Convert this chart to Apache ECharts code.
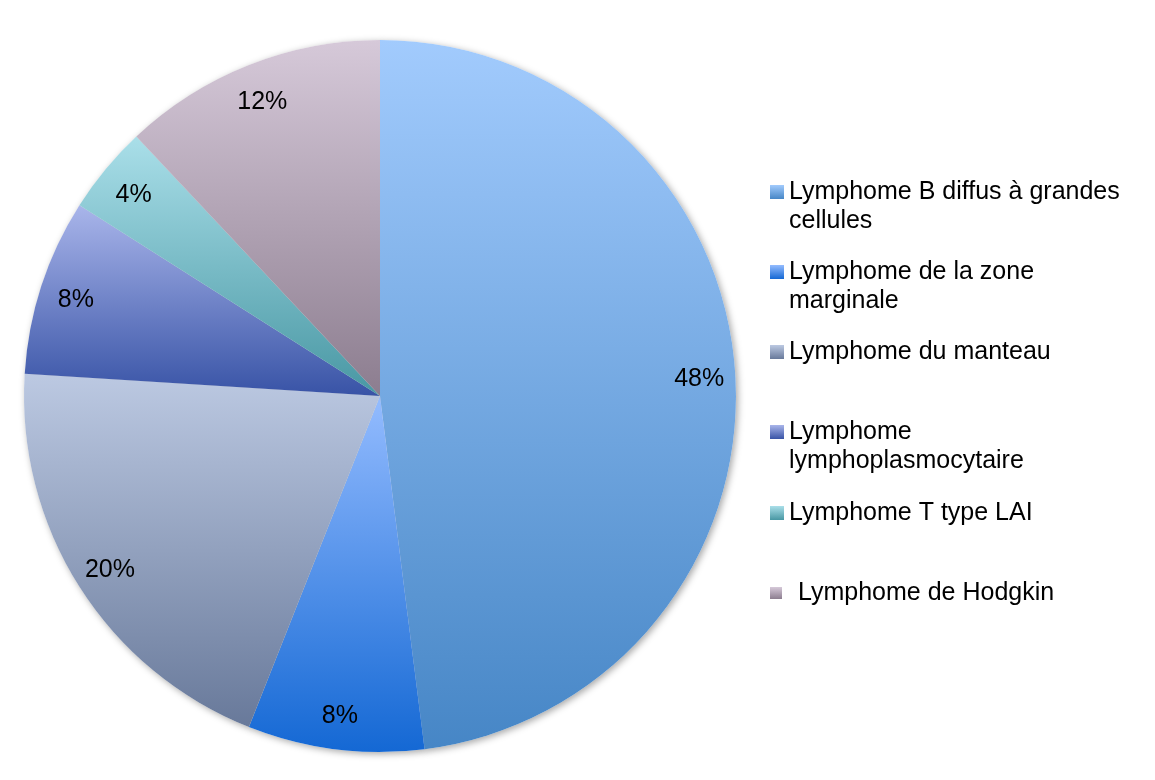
<!DOCTYPE html>
<html>
<head>
<meta charset="utf-8">
<script src="https://cdn.jsdelivr.net/npm/echarts@6/dist/echarts.min.js"></script>
<style>
  html, body { margin: 0; padding: 0; background: #ffffff; }
  #chart { width: 1155px; height: 780px; }
</style>
</head>
<body>
<div id="chart"></div>
<script>
// Lymphoma subtypes and their share of cases (%)
const categories = [
  'Lymphome B diffus à grandes cellules',
  'Lymphome de la zone marginale',
  'Lymphome du manteau',
  'Lymphome lymphoplasmocytaire',
  'Lymphome T type LAI',
  'Lymphome de Hodgkin'
];
const shares = [48, 8, 20, 8, 4, 12];

// Legend text, broken over lines as it is shown beside the pie
const legendLines = [
  ['Lymphome B diffus à grandes', 'cellules'],
  ['Lymphome de la zone', 'marginale'],
  ['Lymphome du manteau'],
  ['Lymphome', 'lymphoplasmocytaire'],
  ['Lymphome T type LAI'],
  ['Lymphome de Hodgkin']
];

// Slice colours: vertical gradient, light at the top, darker at the bottom
const sliceTop = ['#A2CBFD', '#94BCFF', '#BCC9E2', '#A9B5EA', '#AADFE9', '#D6C9D9'];
const sliceBottom = ['#4686C6', '#1468D4', '#68799A', '#3853A6', '#4897A3', '#8C7D8F'];

// Layout
const pieCenter = [380, 396];
const pieRadius = 356;
const legendLeft = 770;
const legendIconY = [192, 272, 352, 432, 513, 593];
const lineHeight = 29;
const fontSize = 25;
const fontFamily = '"Liberation Sans", Arial, Helvetica, sans-serif';

function gradient(i) {
  return new echarts.graphic.LinearGradient(0, 0, 0, 1, [
    { offset: 0, color: sliceTop[i] },
    { offset: 1, color: sliceBottom[i] }
  ]);
}

const pieData = categories.map((name, i) => ({
  name: name,
  value: shares[i],
  itemStyle: { color: gradient(i) }
}));

// One legend block per entry so each sits on its own row
const legends = categories.map((name, i) => {
  const lines = legendLines[i];
  const twoLines = lines.length > 1;
  const blockHeight = twoLines ? lineHeight * 3 : lineHeight;
  const isLast = i === categories.length - 1;
  return {
    data: [name],
    orient: 'vertical',
    left: legendLeft,
    top: legendIconY[i] - blockHeight / 2,
    padding: 0,
    itemWidth: isLast ? 12 : 14,
    itemHeight: isLast ? 12 : 14,
    icon: 'rect',
    selectedMode: false,
    itemStyle: { borderWidth: 0 },
    formatter: function () {
      if (twoLines) {
        // a leading empty line keeps the icon level with the first line
        return '\n' + lines.join('\n');
      }
      return isLast ? '{pad|' + lines[0] + '}' : lines[0];
    },
    textStyle: {
      fontFamily: fontFamily,
      fontSize: fontSize,
      lineHeight: lineHeight,
      color: '#000000',
      rich: {
        pad: {
          fontFamily: fontFamily,
          fontSize: fontSize,
          lineHeight: lineHeight,
          color: '#000000',
          padding: [0, 0, 0, 11]
        }
      }
    }
  };
});

const chart = echarts.init(document.getElementById('chart'), null, { renderer: 'canvas' });

chart.setOption({
  backgroundColor: '#ffffff',
  animation: false,
  legend: legends,
  series: [
    {
      // the pie itself
      type: 'pie',
      name: 'main',
      center: pieCenter,
      radius: pieRadius,
      startAngle: 90,
      clockwise: true,
      z: 3,
      silent: true,
      label: { show: false },
      labelLine: { show: false },
      itemStyle: { borderWidth: 0 },
      emphasis: { disabled: true },
      data: pieData
    },
    {
      // soft drop shadow round the rim, drawn underneath
      type: 'pie',
      name: 'rim',
      center: pieCenter,
      radius: pieRadius,
      startAngle: 90,
      z: 1,
      silent: true,
      legendHoverLink: false,
      label: { show: false },
      labelLine: { show: false },
      itemStyle: {
        color: '#ffffff',
        borderWidth: 0,
        shadowBlur: 7,
        shadowColor: 'rgba(0,0,0,0.35)',
        shadowOffsetX: 2,
        shadowOffsetY: 2
      },
      emphasis: { disabled: true },
      data: categories.map((name, i) => ({ name: name, value: shares[i] }))
    },
    {
      // percentage labels, set in the outer band of each slice
      type: 'pie',
      name: 'labels',
      center: pieCenter,
      radius: [pieRadius * 0.79, pieRadius * 0.99],
      startAngle: 90,
      z: 5,
      silent: true,
      legendHoverLink: false,
      itemStyle: { color: 'rgba(0,0,0,0)', borderWidth: 0 },
      label: {
        show: true,
        position: 'inside',
        formatter: p => p.value + '%',
        fontFamily: fontFamily,
        fontSize: fontSize,
        color: '#000000',
        offset: [0, 3]
      },
      labelLine: { show: false },
      emphasis: { disabled: true },
      data: categories.map((name, i) => ({ name: name, value: shares[i] }))
    }
  ]
});
</script>
</body>
</html>
